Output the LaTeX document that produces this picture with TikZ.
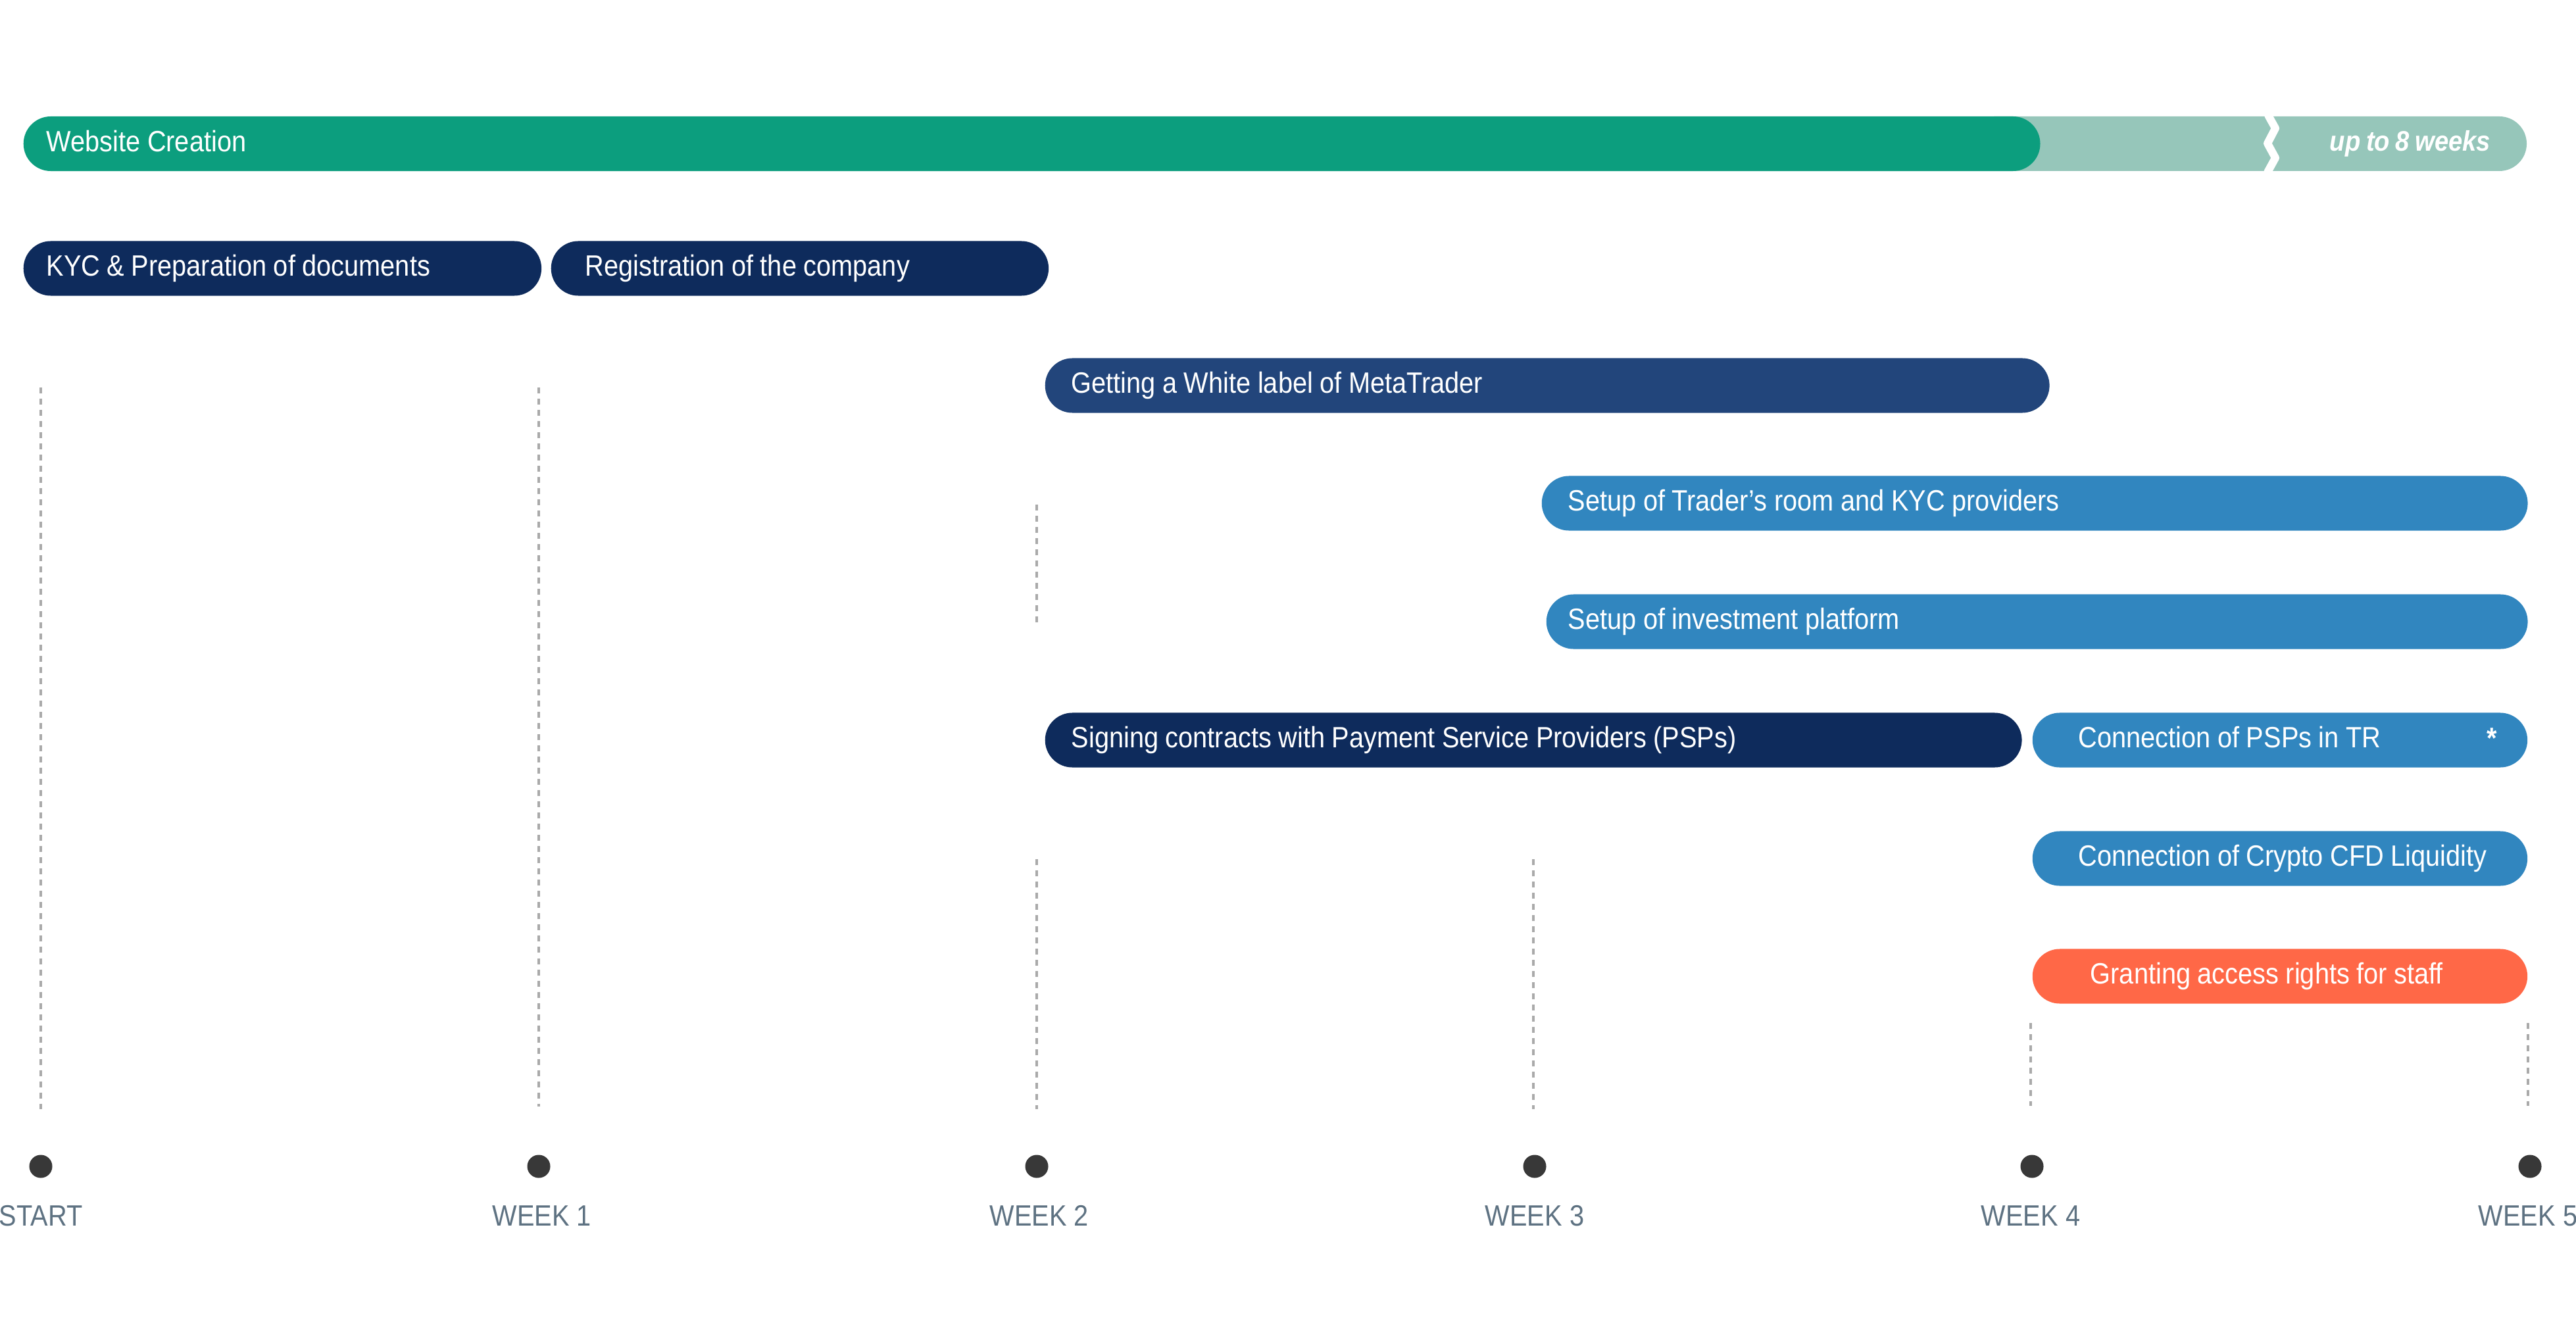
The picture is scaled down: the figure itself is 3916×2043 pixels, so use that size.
\documentclass[tikz,border=0pt]{standalone}
\usepackage{fontspec}
\setmainfont{Liberation Sans}[FakeStretch=0.89]
\definecolor{gdark}{HTML}{0C9E7E}
\definecolor{glight}{HTML}{96C6BA}
\definecolor{navy}{HTML}{0E2B5C}
\definecolor{navymid}{HTML}{22457B}
\definecolor{blue}{HTML}{3186BF}
\definecolor{orange}{HTML}{FF6847}
\definecolor{dotc}{HTML}{383838}
\definecolor{labc}{HTML}{5E7282}
\definecolor{dashc}{HTML}{AAAAAA}
\newcommand\lefttext[1]{\makebox[0pt][l]{\spaceskip=0.235em plus 0.05em minus 0.05em\relax #1}}
\newcommand\taskfont{\fontsize{12.7}{15}\selectfont}
\newcommand\uptofont{\fontsize{12.2}{15}\selectfont\bfseries\itshape}
\begin{document}
\begin{tikzpicture}[x=0.01cm,y=-0.01cm,
  task/.style n args={3}{rounded corners=0.415cm, minimum height=0.83cm,
    minimum width=#1 cm, text width=#2 cm, inner xsep=#3 cm, inner ysep=0pt,
    anchor=west, align=left, text=white, font=\taskfont,
    text height=9pt, text depth=2.3pt},
  guide/.style={draw=dashc, line width=0.035cm, dash pattern=on 0.09cm off 0.08cm},
  wdot/.style={circle, fill=dotc, minimum size=0.35cm, inner sep=0pt},
  wlab/.style={text=labc, font=\taskfont, text height=9.1pt, text depth=0pt, inner sep=0pt}]
\useasboundingbox (0,0) rectangle (3916,2043);

% guides
\coordinate (g0a) at (62,589);   \coordinate (g0b) at (62,1686);
\coordinate (g1a) at (819,589);  \coordinate (g1b) at (819,1682);
\coordinate (g2a) at (1576,767); \coordinate (g2b) at (1576,949);
\coordinate (g2c) at (1576,1306);\coordinate (g2d) at (1576,1686);
\coordinate (g3a) at (2331,1306);\coordinate (g3b) at (2331,1686);
\coordinate (g4a) at (3087,1555);\coordinate (g4b) at (3087,1681);
\coordinate (g5a) at (3843,1555);\coordinate (g5b) at (3843,1681);
\draw[guide] (g0a) -- (g0b);
\draw[guide] (g1a) -- (g1b);
\draw[guide] (g2a) -- (g2b);
\draw[guide] (g2c) -- (g2d);
\draw[guide] (g3a) -- (g3b);
\draw[guide] (g4a) -- (g4b);
\draw[guide] (g5a) -- (g5b);

% website creation
\fill[glight, rounded corners=0.415cm] (2990,177) rectangle (3841,260);
\draw[white, line width=0.12cm, line join=round] (3444,165) -- (3449,177) -- (3459,195) -- (3447,218) -- (3459,240) -- (3448,260) -- (3443,272);
\node[task={30.64}{29.94}{0.35}, fill=gdark] (web) at (35,218.5) {\lefttext{Website Creation}};
\node[text=white, font=\uptofont, text height=8.7pt, text depth=2.2pt, inner sep=0pt] (upto) at (3664,218.5) {\spaceskip=0.2em\relax up to 8 weeks};

% tasks
\node[task={7.87}{7.17}{0.35}, fill=navy] (kyc) at (35,408) {\lefttext{KYC \& Preparation of documents}};
\node[task={7.56}{6.52}{0.52}, fill=navy] (reg) at (837,408) {\lefttext{Registration of the company}};
\node[task={15.26}{14.46}{0.40}, fill=navymid] (wl) at (1588,586) {\lefttext{Getting a White label of MetaTrader}};
\node[task={14.98}{14.18}{0.40}, fill=blue] (tr) at (2343,765) {\lefttext{Setup of Trader’s room and KYC providers}};
\node[task={14.91}{14.25}{0.33}, fill=blue] (inv) at (2350,945) {\lefttext{Setup of investment platform}};
\node[task={14.84}{14.04}{0.40}, fill=navy] (sign) at (1588,1125) {\lefttext{Signing contracts with Payment Service Providers (PSPs)}};
\node[task={7.52}{6.12}{0.70}, fill=blue] (psp) at (3089,1125) {\lefttext{Connection of PSPs in TR}};
\node[text=white, font=\taskfont\bfseries, inner sep=0pt] (star) at (3788,1122) {*};
\node[task={7.52}{6.12}{0.70}, fill=blue] (cfd) at (3089,1305) {\lefttext{Connection of Crypto CFD Liquidity}};
\node[task={7.52}{5.76}{0.88}, fill=orange] (staff) at (3089,1484) {\lefttext{Granting access rights for staff}};

% weeks
\node[wdot] (d0) at (62,1773) {};
\node[wdot] (d1) at (819,1773) {};
\node[wdot] (d2) at (1576,1773) {};
\node[wdot] (d3) at (2333,1773) {};
\node[wdot] (d4) at (3089,1773) {};
\node[wdot] (d5) at (3846,1773) {};
\node[wlab] (l0) at (62,1847) {START};
\node[wlab] (l1) at (824,1847) {WEEK 1};
\node[wlab] (l2) at (1580,1847) {WEEK 2};
\node[wlab] (l3) at (2333,1847) {WEEK 3};
\node[wlab] (l4) at (3087,1847) {WEEK 4};
\node[wlab] (l5) at (3843,1847) {WEEK 5};
\end{tikzpicture}
\end{document}
